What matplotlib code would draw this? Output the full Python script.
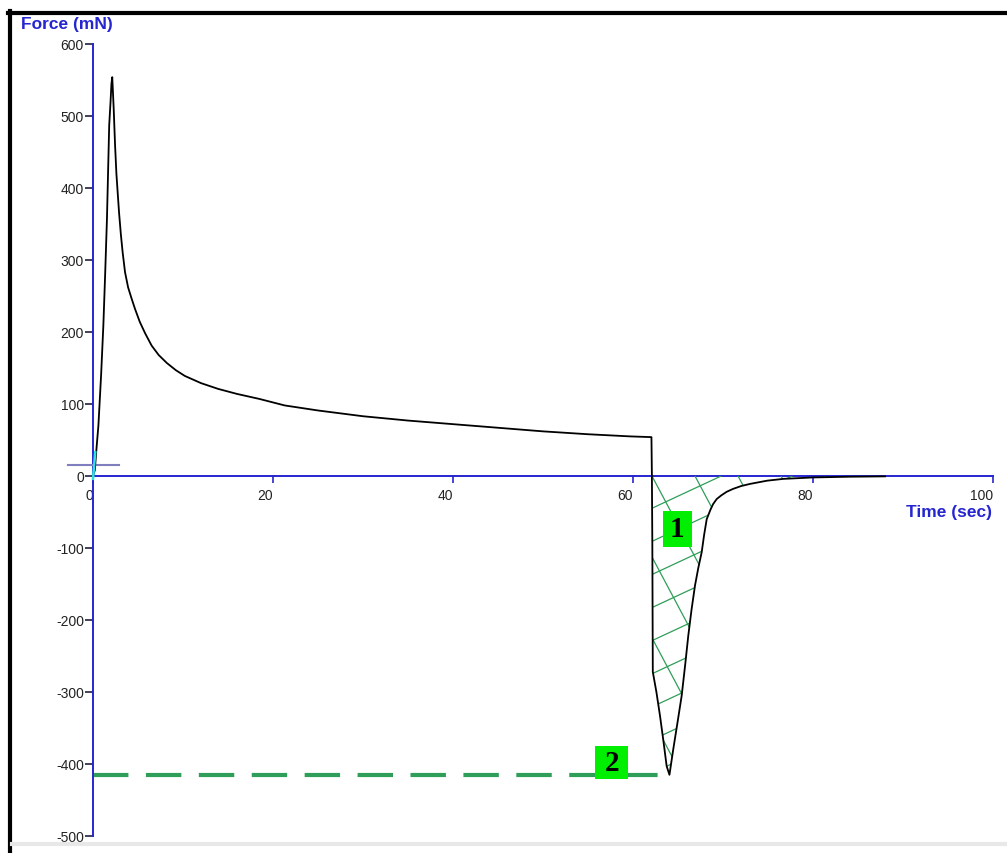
import numpy as np
import matplotlib.pyplot as plt
from matplotlib.patches import Rectangle
from matplotlib.lines import Line2D

plt.rcParams['axes.unicode_minus'] = False

# force trace (time in s, force in mN)
time_s = np.array([0.0, 0.2, 0.4, 0.6, 0.9, 1.15, 1.35, 1.55, 1.8, 1.95, 2.05, 2.14,
                   2.3, 2.45, 2.6, 2.74, 2.9, 3.1, 3.3, 3.56, 3.9, 4.3, 4.67, 5.2, 5.8,
                   6.52, 7.3, 8.2, 9.2, 10.2, 12.0, 13.9, 16.0, 18.5, 21.3, 25.0, 30.0,
                   35.0, 40.0, 45.0, 50.0, 55.0, 59.7, 62.05,
                   62.1, 62.15, 62.2, 62.6, 63.0, 63.4, 63.74, 64.05, 64.48, 64.95, 65.41,
                   65.8, 66.14, 66.5, 66.89, 67.25, 67.63, 67.9, 68.19, 68.6, 68.9, 69.3,
                   69.8, 70.4, 71.1, 72.0, 73.0, 74.9, 76.7, 80.0, 84.0, 88.0])
force_mn = np.array([0, 8, 40, 70, 140, 209, 280, 357, 487, 520, 545, 554,
                     510, 460, 420, 394, 365, 335, 310, 283, 262, 246, 232, 214, 198,
                     181, 168, 157, 147, 139, 129, 121, 114, 107, 98, 91, 83,
                     77, 72, 67, 62, 58, 55, 54,
                     0, -100, -272, -300, -333, -370, -403, -415, -379, -342, -305,
                     -262, -222, -186, -152, -128, -106, -82, -60, -47, -39, -32,
                     -27, -22, -18, -14, -11, -6.5, -4, -2, -1, -0.5])

trough = -415          # peak tensile force (marker 2)
trough_time = 64.05
drop_time = 62.1       # start of the adhesion area (marker 1)
baseline = 15.7        # short reference line at the start

blue = '#2626d0'
green = '#2e9e58'

fig = plt.figure(figsize=(10.07, 8.54), dpi=100)
ax = fig.add_axes([93 / 1007, 17 / 854, 900 / 1007, 792 / 854])
ax.set_xlim(0, 100)
ax.set_ylim(-500, 600)

# axes styling
for side in ['top', 'right']:
    ax.spines[side].set_visible(False)
ax.spines['left'].set_color(blue)
ax.spines['left'].set_linewidth(1.4)
ax.spines['bottom'].set_position(('data', 0))
ax.spines['bottom'].set_color(blue)
ax.spines['bottom'].set_linewidth(1.4)

ax.set_xticks([0, 20, 40, 60, 80, 100])
ax.set_yticks(np.arange(-500, 601, 100))
ax.tick_params(axis='x', direction='out', length=5, width=1.2, color=blue,
               pad=4, labelsize=10, labelcolor='#222222')
ax.tick_params(axis='y', direction='out', length=6, width=1.2, color='#202040',
               pad=0.5, labelsize=10, labelcolor='#222222')
for lab in ax.get_xticklabels():
    lab.set_horizontalalignment('right')
    lab.set_fontfamily('Liberation Sans')
for lab in ax.get_yticklabels():
    lab.set_fontfamily('Liberation Sans')

# main curve
ax.plot(time_s, force_mn, color='black', lw=1.3, zorder=4)

# start markers
ax.plot([-2.8, 2.9], [baseline, baseline], color='#7f7fc0', lw=1.5, clip_on=False, zorder=3)
ax.plot([0.0, 0.25], [-4, 33], color='#30e0e0', lw=1.8, clip_on=False, zorder=5)

# adhesion area with sparse cross hatch
mask = time_s >= drop_time
poly = ax.fill_between(time_s[mask], force_mn[mask], 0, facecolor='none',
                       edgecolor='none')
clip = poly.get_paths()[0]
to_data = ax.transData.inverted()


def hatch(angle, spacing, anchor):
    a = np.radians(angle)
    d = np.array([np.cos(a), np.sin(a)])
    n = np.array([-np.sin(a), np.cos(a)])
    for k in range(-25, 26):
        p0 = np.array(anchor) + k * spacing * n
        pts = to_data.transform(np.array([p0 - 700 * d, p0 + 700 * d]))
        ln, = ax.plot(pts[:, 0], pts[:, 1], color=green, lw=0.9, zorder=3)
        ln.set_clip_path(clip, ax.transData)


hatch(25, 30, (653, 854 - 575))
hatch(-62, 38, (695, 854 - 477))

# trough level
ax.plot([0, trough_time], [trough, trough], color=green, lw=3, dashes=(8.5, 4.2), zorder=2)

# numbered markers
ax.add_patch(Rectangle((63.33, -98.6), 3.2, 50, facecolor='#00ee00',
                       edgecolor='none', zorder=6))
ax.text(64.93, -73.6, '1', fontsize=21, fontweight='bold', family='Liberation Serif',
        ha='center', va='center', zorder=7)
ax.add_patch(Rectangle((55.8, -421), 3.67, 46, facecolor='#00ee00',
                       edgecolor='none', zorder=6))
ax.text(57.63, -398, '2', fontsize=21, fontweight='bold', family='Liberation Serif',
        ha='center', va='center', zorder=7)

# axis titles
fig.text(21 / 1007, 1 - 25 / 854, 'Force (mN)', color=blue, fontsize=12.5,
         fontweight='bold', family='Liberation Sans', ha='left', va='center')
fig.text(992 / 1007, 1 - 512 / 854, 'Time (sec)', color=blue, fontsize=12.5,
         fontweight='bold', family='Liberation Sans', ha='right', va='center')

# outer frame
fig.add_artist(Line2D([8 / 1007, 1], [1 - 14 / 854, 1 - 14 / 854], color='black',
                      lw=3, transform=fig.transFigure))
fig.add_artist(Line2D([10 / 1007, 10 / 1007], [0, 1 - 12 / 854], color='black',
                      lw=3, transform=fig.transFigure))
fig.add_artist(Line2D([12 / 1007, 1], [1 - 845 / 854, 1 - 845 / 854], color='#e8e8e8',
                      lw=3, transform=fig.transFigure))

fig.savefig('out.png', dpi=100)
